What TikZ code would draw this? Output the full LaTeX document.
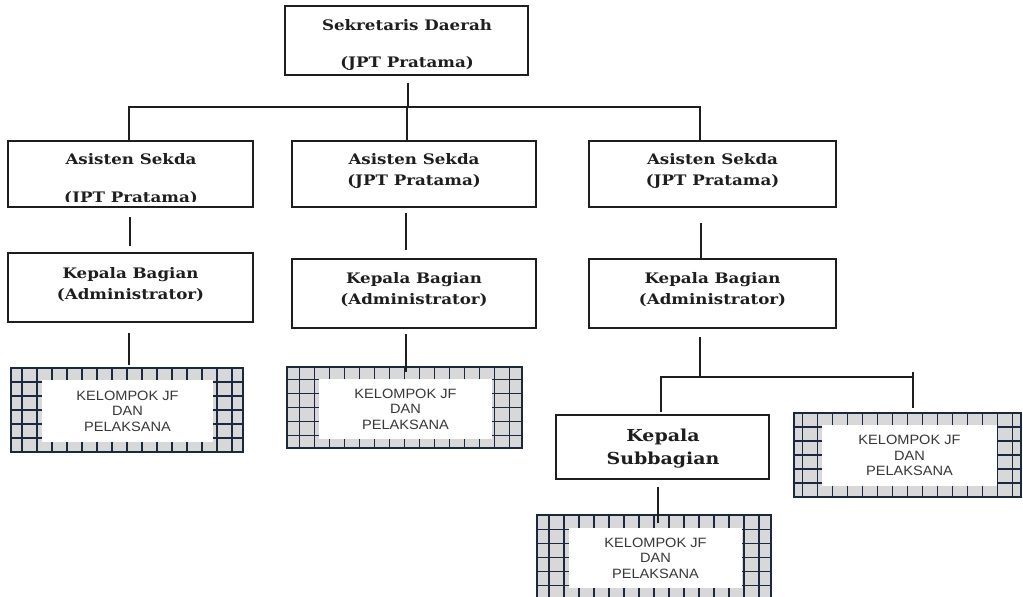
\documentclass[tikz,border=0pt]{standalone}
\usepackage{fontspec}
\setmainfont{DejaVu Serif}[FakeStretch=1.15]
\newfontfamily\jffont{Liberation Sans}[FakeStretch=1.08]
\usetikzlibrary{calc}
\definecolor{navy}{HTML}{1B2940}
\definecolor{gridfill}{HTML}{D8D8D8}
\definecolor{ink}{HTML}{1E1E1E}

\begin{document}
\begin{tikzpicture}[x=1pt,y=-1pt,
  post/.style={draw=ink, line width=1.8pt, fill=white, inner sep=0pt},
  posttext/.style={font=\bfseries\fontsize{14.5}{21}\selectfont, align=center, text=ink, inner sep=0pt},
  subtext/.style={font=\bfseries\fontsize{16.5}{23}\selectfont, align=center, text=ink, inner sep=0pt},
  link/.style={draw=ink, line width=1.8pt, line cap=rect},
  jf/.style={draw=navy, line width=2.6pt, fill=gridfill, inner sep=0pt,
    path picture={
      \draw[navy, line width=1.3pt, xstep=15pt, ystep=14pt]
        (path picture bounding box.south west) grid (path picture bounding box.north east);}},
  jfin/.style={fill=white, inner sep=0pt, font=\jffont\fontsize{13.5}{15.5}\selectfont, align=center, text=black!78},
]
\useasboundingbox (0,0) rectangle (1023,597);
\fill[white] (0,0) rectangle (1023,597);

% --- top level
\node[post, minimum width=243pt, minimum height=69pt] (sd) at (406.5,40.5) {};
\node[posttext] (sdt) at (407,45) {Sekretaris Daerah\\[16pt](JPT Pratama)};

% --- assistants
\node[post, minimum width=245pt, minimum height=66pt] (as1) at (130.5,174) {};
\begin{scope}
  \clip (0,0) rectangle (1023,201);
  \node[posttext] (as1t) at (131,179) {Asisten Sekda\\[17pt](JPT Pratama)};
\end{scope}
\node[post, minimum width=244pt, minimum height=66pt] (as2) at (414,174) {};
\node[posttext] (as2t) at (414,170.5) {Asisten Sekda\\(JPT Pratama)};
\node[post, minimum width=247pt, minimum height=66pt] (as3) at (712.5,174) {};
\node[posttext] (as3t) at (712.5,170.5) {Asisten Sekda\\(JPT Pratama)};

% --- heads of division
\node[post, minimum width=245pt, minimum height=69pt] (kb1) at (130.5,287.5) {};
\node[posttext] (kb1t) at (130.5,285) {Kepala Bagian\\(Administrator)};
\node[post, minimum width=244pt, minimum height=69pt] (kb2) at (414,293.5) {};
\node[posttext] (kb2t) at (414,290) {Kepala Bagian\\(Administrator)};
\node[post, minimum width=247pt, minimum height=69pt] (kb3) at (712.5,293.5) {};
\node[posttext] (kb3t) at (712.5,290) {Kepala Bagian\\(Administrator)};

% --- head of subdivision
\node[post, minimum width=213pt, minimum height=64pt] (ksb) at (662.5,447) {};
\node[subtext] (ksbt) at (663,448.5) {Kepala\\Subbagian};

% --- functional groups
\node[jf, minimum width=232pt, minimum height=84pt] (jf1) at (127,410) {};
\node[jfin, minimum width=171pt, minimum height=62pt] (jf1t) at (127.5,411) {KELOMPOK JF\\DAN\\PELAKSANA};
\node[jf, minimum width=235pt, minimum height=81pt] (jf2) at (404.5,407.5) {};
\node[jfin, minimum width=173pt, minimum height=60pt] (jf2t) at (405.5,409) {KELOMPOK JF\\DAN\\PELAKSANA};
\node[jf, minimum width=227pt, minimum height=84pt] (jf3) at (907.5,455) {};
\node[jfin, minimum width=175pt, minimum height=61pt] (jf3t) at (909.5,455.5) {KELOMPOK JF\\DAN\\PELAKSANA};
\node[jf, minimum width=234pt, minimum height=85pt] (jf4) at (654,557.5) {};
\node[jfin, minimum width=173pt, minimum height=60pt] (jf4t) at (655.5,558) {KELOMPOK JF\\DAN\\PELAKSANA};

% --- junction points
\coordinate (c0) at (408,107);
\coordinate (c1) at (129,107);
\coordinate (c2) at (407,107);
\coordinate (c3) at (700,107);
\coordinate (x1) at (130,0);
\coordinate (x2) at (406,0);
\coordinate (x3) at (701,0);
\coordinate (bl) at (661,377);
\coordinate (bm) at (700,377);
\coordinate (br) at (913,377);
\coordinate (xs) at (658,0);

% --- connectors
\draw[link, shorten <=8pt] (sd.south -| c0) -- (c0);
\draw[link] (as1.north -| c1) -- (c1) -- (c3) -- (as3.north -| c3);
\draw[link] (c2) -- (as2.north -| c2);

\draw[link, shorten <=10pt, shorten >=7pt] (as1.south -| x1) -- (kb1.north -| x1);
\draw[link, shorten <=6pt, shorten >=9pt] (as2.south -| x2) -- (kb2.north -| x2);
\draw[link, shorten <=16pt, shorten >=1pt] (as3.south -| x3) -- (kb3.north -| x3);

\draw[link, shorten <=11pt, shorten >=3pt] (kb1.south -| c1) -- (jf1.north -| c1);
\draw[link, shorten <=6pt, shorten >=-5pt] (kb2.south -| x2) -- (jf2.north -| x2);
\draw[link, shorten <=9pt] (kb3.south -| bm) -- (bm);

\draw[link] (bl) -- (br);
\draw[link, shorten >=3pt] (bl) -- (ksb.north -| bl);
\draw[link, shorten <=-4pt, shorten >=5pt] (br) -- (jf3.north -| br);
\draw[link, shorten <=8pt, shorten >=-8pt] (ksb.south -| xs) -- (jf4.north -| xs);
\end{tikzpicture}
\end{document}
